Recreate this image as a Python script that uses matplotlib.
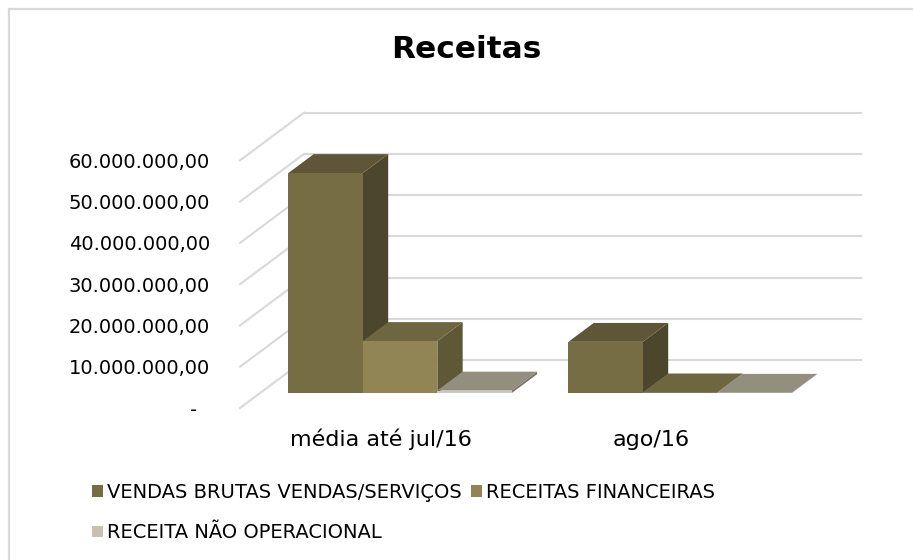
import matplotlib
matplotlib.use('Agg')
import matplotlib.pyplot as plt
import numpy as np
from matplotlib.patches import Polygon, Patch
from matplotlib.transforms import Affine2D, blended_transform_factory
from matplotlib.lines import Line2D
from matplotlib.ticker import FuncFormatter

# datos del grafico
categorias = ['média até jul/16', 'ago/16']
series = ['VENDAS BRUTAS VENDAS/SERVIÇOS', 'RECEITAS FINANCEIRAS', 'RECEITA NÃO OPERACIONAL']
vendas_brutas = [53300000, 12400000]
receitas_financeiras = [12600000, 150000]
receita_nao_operacional = [600000, 60000]
yticks = [0, 10000000, 20000000, 30000000, 40000000, 50000000, 60000000]

valores = [vendas_brutas, receitas_financeiras, receita_nao_operacional]

# colores de cada serie: frente, lado, tapa
colores = [('#776d45', '#4c462d', '#5e5636'),
           ('#918556', '#5e5837', '#6e6541'),
           ('#cdc8b9', '#77746a', '#928f7e')]

W, H = 913, 560
fig = plt.figure(figsize=(W / 100, H / 100), dpi=100)

# borde del area del grafico
fig.add_artist(Line2D([8.5 / W, 8.5 / W], [0, 1 - 8.5 / H], color='#d9d9d9', lw=1.6))
fig.add_artist(Line2D([8.5 / W, 1], [1 - 8.5 / H, 1 - 8.5 / H], color='#d9d9d9', lw=1.6))

fig.text(466.5 / W, 1 - 58.3 / H, 'Receitas', ha='center', va='baseline',
         fontsize=22.5, fontweight='bold', color='#000000')

ax = fig.add_axes([240 / W, 152 / H, 622 / W, 295.3 / H])
ax.set_xlim(-0.5, -0.5 + 622 / 280)
ax.set_ylim(0, 71.55e6)
ax.patch.set_visible(False)
for s in ax.spines.values():
    s.set_visible(False)

# profundidad (proyeccion oblicua) en unidades de datos
DX = 64 / 280
DY = 11.56e6
f0, f1 = 0.314, 0.71

# grilla: pared del fondo y pared lateral
for v in yticks:
    ax.plot([-0.5 + DX, ax.get_xlim()[1]], [v + DY, v + DY], color='#d9d9d9', lw=1.5,
            zorder=0, clip_on=False, solid_capstyle='butt')
    ax.plot([-0.5, -0.5 + DX], [v, v + DY], color='#d9d9d9', lw=1.5,
            zorder=0, clip_on=False)

w = 0.266
x = np.arange(len(categorias))
desplaz = Affine2D().translate(f0 * DX, f0 * DY) + ax.transData
for j, vals in enumerate(valores):
    frente, lado, tapa = colores[j]
    barras = ax.bar(x + (j - 1) * w, vals, width=w, color=frente, transform=desplaz,
                    zorder=2 + 3 * j, clip_on=False)
    for r in barras:
        x0, x1, h = r.get_x(), r.get_x() + r.get_width(), r.get_height()
        lat = [(x1 + f0 * DX, f0 * DY), (x1 + f1 * DX, f1 * DY),
               (x1 + f1 * DX, h + f1 * DY), (x1 + f0 * DX, h + f0 * DY)]
        sup = [(x0 + f0 * DX, h + f0 * DY), (x0 + f1 * DX, h + f1 * DY),
               (x1 + f1 * DX, h + f1 * DY), (x1 + f0 * DX, h + f0 * DY)]
        ax.add_patch(Polygon(lat, closed=True, facecolor=lado, edgecolor='none',
                             zorder=1 + 3 * j, clip_on=False))
        ax.add_patch(Polygon(sup, closed=True, facecolor=tapa, edgecolor='none',
                             zorder=3 + 3 * j, clip_on=False))


def fmt(v, pos):
    if v == 0:
        return '-  '
    s = '{:,.2f}'.format(v)
    return s.replace(',', 'X').replace('.', ',').replace('X', '.')


ax.set_yticks(yticks)
ax.yaxis.set_major_formatter(FuncFormatter(fmt))
ax.tick_params(axis='y', length=0, pad=21.6, labelsize=14, labelcolor='#000000')
ax.set_xticks([])

# etiquetas de categorias sobre la misma linea base
trans = blended_transform_factory(ax.transData, ax.transAxes)
for i, cat in enumerate(categorias):
    ax.text(x[i] * 0.965 + 0.005, -38 / 295.3, cat, transform=trans, ha='center',
            va='baseline', fontsize=16, color='#000000')

manijas = [Patch(facecolor=colores[0][0]), Patch(facecolor='#c5c0b2'), Patch(facecolor=colores[1][0])]
fig.legend(handles=manijas, labels=[series[0], series[2], series[1]], ncol=2,
           loc='upper left', bbox_to_anchor=(92 / W, 1 - 483 / H), frameon=False,
           fontsize=14, handlelength=0.55, handleheight=0.55, handletextpad=0.2,
           columnspacing=0.5, labelspacing=1.1, borderpad=0, borderaxespad=0)

fig.savefig('out.png', dpi=100)
